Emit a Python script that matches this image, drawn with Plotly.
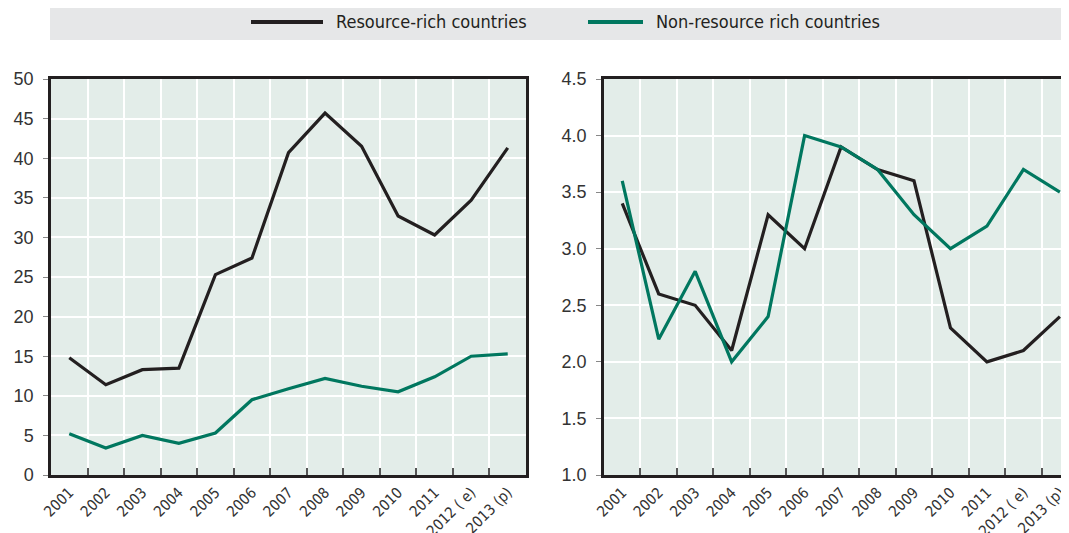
import plotly.graph_objects as go

years = ["2001", "2002", "2003", "2004", "2005", "2006", "2007", "2008",
         "2009", "2010", "2011", "2012 ( e)", "2013 (p)"]

# Left panel
rich_left = [14.8, 11.4, 13.3, 13.5, 25.3, 27.4, 40.7, 45.7, 41.5, 32.7, 30.3, 34.7, 41.3]
nonrich_left = [5.2, 3.4, 5.0, 4.0, 5.3, 9.5, 10.9, 12.2, 11.2, 10.5, 12.4, 15.0, 15.3]

# Right panel
rich_right = [3.4, 2.6, 2.5, 2.1, 3.3, 3.0, 3.9, 3.7, 3.6, 2.3, 2.0, 2.1, 2.4]
nonrich_right = [3.6, 2.2, 2.8, 2.0, 2.4, 4.0, 3.9, 3.7, 3.3, 3.0, 3.2, 3.7, 3.5]

series_names = ["Resource-rich countries", "Non-resource rich countries"]

BLACK = "#231f20"
GREEN = "#00775f"
BG = "#e3ede9"
NARROW = "DejaVu Sans Condensed, Liberation Sans Narrow, Arial Narrow, sans-serif"

OFF = 8  # browser body margin
W, H = 1069 - OFF, 533 - OFF

def px(x):
    return (x - OFF) / W

top, bot = 79 - OFF, 475 - OFF
plot_h = bot - top

def py(y):
    # screen y (reference pixels) -> paper y
    return 1 + (top - (y - OFF)) / plot_h

fig = go.Figure()
fig.add_trace(go.Scatter(x=years, y=rich_left, mode="lines", name=series_names[0], showlegend=False,
                         line=dict(color=BLACK, width=3.2), xaxis="x", yaxis="y"))
fig.add_trace(go.Scatter(x=years, y=nonrich_left, mode="lines", name=series_names[1], showlegend=False,
                         line=dict(color=GREEN, width=3.2), xaxis="x", yaxis="y"))
fig.add_trace(go.Scatter(x=years, y=rich_right, mode="lines", name=series_names[0], showlegend=False,
                         line=dict(color=BLACK, width=3.2), xaxis="x2", yaxis="y2"))
fig.add_trace(go.Scatter(x=years, y=nonrich_right, mode="lines", name=series_names[1], showlegend=False,
                         line=dict(color=GREEN, width=3.2), xaxis="x2", yaxis="y2"))

xcommon = dict(type="category", tickson="boundaries", ticks="inside", ticklen=7,
               tickcolor="#555555", tickwidth=2, showgrid=True, gridcolor="white", gridwidth=2,
               showline=True, linecolor=BLACK, linewidth=2.5, mirror=True,
               tickangle=-45, tickfont=dict(family=NARROW, size=15, color="#333333"),
               zeroline=False, automargin=False)
ycommon = dict(showgrid=True, gridcolor="white", gridwidth=2, ticks="outside", ticklen=5,
               tickcolor="#888888", showline=True, linecolor=BLACK, linewidth=2.5,
               tickfont=dict(family="Liberation Sans", size=18, color="#333333"),
               zeroline=False, ticklabelstandoff=6, automargin=False)

shapes = [dict(type="rect", xref="paper", yref="paper", x0=px(50), x1=1.0,
               y0=py(40), y1=py(3), fillcolor="#e6e7e8", line=dict(width=0), layer="below"),
          dict(type="line", xref="paper", yref="paper", x0=px(251), x1=px(323), y0=py(22), y1=py(22),
               line=dict(color=BLACK, width=4)),
          dict(type="line", xref="paper", yref="paper", x0=px(588), x1=px(643), y0=py(22), y1=py(22),
               line=dict(color=GREEN, width=4))]
annotations = [dict(text=series_names[0], xref="paper", yref="paper", x=px(334), y=py(22),
                    xanchor="left", yanchor="middle", showarrow=False,
                    font=dict(family=NARROW, size=18, color="#231f20")),
               dict(text=series_names[1], xref="paper", yref="paper", x=px(654), y=py(22),
                    xanchor="left", yanchor="middle", showarrow=False,
                    font=dict(family=NARROW, size=18, color="#231f20"))]

fig.update_layout(
    width=W, height=H,
    margin=dict(l=0, r=0, t=top, b=H - bot, autoexpand=False),
    paper_bgcolor="white",
    plot_bgcolor=BG,
    xaxis=dict(domain=[px(51), px(526)], range=[-0.5, 12.5], **xcommon),
    yaxis=dict(range=[0, 50], dtick=5, mirror=True, **ycommon),
    xaxis2=dict(domain=[px(604), 1.0], range=[-0.5, 12.25], anchor="y2", **xcommon),
    yaxis2=dict(range=[1.0, 4.5], dtick=0.5, tickformat=".1f", anchor="x2", mirror=False, **ycommon),
    showlegend=False,
    shapes=shapes,
    annotations=annotations,
)

fig.write_html("out.html")
